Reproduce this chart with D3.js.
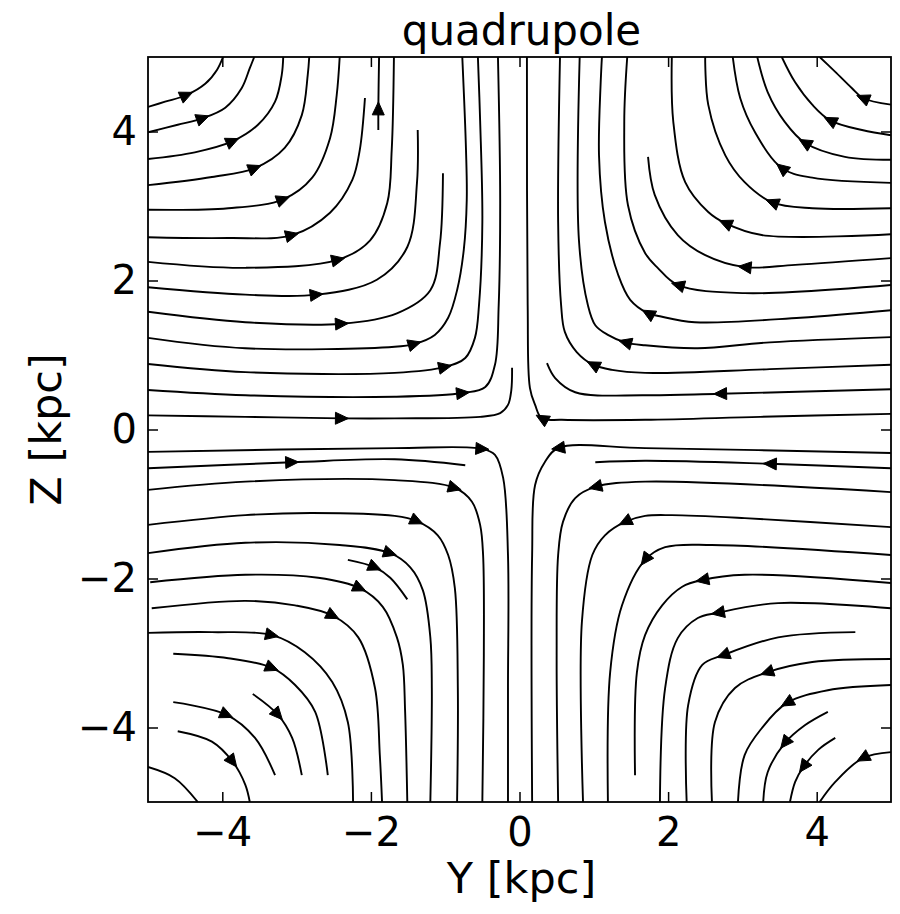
<!DOCTYPE html>
<html>
<head>
<meta charset="utf-8">
<script src="https://cdn.jsdelivr.net/npm/d3@7"></script>
<style>
  html, body { margin: 0; padding: 0; background: #fff; }
  svg { display: block; }
  text { font-family: "DejaVu Sans", sans-serif; fill: #000; }
</style>
</head>
<body>
<svg id="chart" width="900" height="914"></svg>
<script>
// ---------------- data (Y, Z in kpc) ----------------
const chartTitle = "quadrupole";
const xLabel = "Y [kpc]";
const yLabel = "Z [kpc]";
const xDomain = [-5, 5];
const yDomain = [-5, 5];
const xTicks = [-4, -2, 0, 2, 4];
const yTicks = [-4, -2, 0, 2, 4];

// each streamline: points in flow order, arrow = index of the point carrying the arrow head (-1: none)
const streamsTopLeft = [
  { pts: [[-5.0,4.33],[-4.77,4.40],[-4.48,4.49],[-4.23,4.64],[-4.07,4.83],[-3.99,5.0]], arrow: 2 },
  { pts: [[-5.0,3.99],[-4.60,4.09],[-4.26,4.18],[-3.96,4.32],[-3.74,4.58],[-3.63,4.85],[-3.57,5.0]], arrow: 2 },
  { pts: [[-5.0,3.63],[-4.37,3.72],[-3.86,3.87],[-3.52,4.09],[-3.29,4.40],[-3.20,4.76],[-3.18,5.0]], arrow: 2 },
  { pts: [[-5.0,3.28],[-4.14,3.39],[-3.56,3.51],[-3.16,3.78],[-2.93,4.22],[-2.85,4.76],[-2.83,5.0]], arrow: 2 },
  { pts: [[-5.0,2.95],[-3.92,2.97],[-3.18,3.09],[-2.79,3.38],[-2.55,3.91],[-2.46,4.49],[-2.42,5.0]], arrow: 2 },
  { pts: [[-5.0,2.58],[-3.92,2.57],[-3.06,2.61],[-2.55,2.91],[-2.25,3.35],[-2.15,3.75],[-2.08,4.45]], arrow: 2 },
  { pts: [[-1.90,4.02],[-1.90,4.31],[-1.89,5.0]], arrow: 1 },
  { pts: [[-5.0,2.25],[-3.69,2.17],[-2.44,2.28],[-2.01,2.54],[-1.78,3.04],[-1.72,3.75],[-1.69,5.0]], arrow: 2 },
  { pts: [[-5.0,1.91],[-3.69,1.81],[-2.73,1.81],[-1.92,2.01],[-1.51,2.45],[-1.38,3.31],[-1.37,4.02]], arrow: 2 },
  { pts: [[-5.0,1.58],[-3.69,1.44],[-2.39,1.42],[-1.65,1.56],[-1.20,1.87],[-1.07,2.50],[-1.03,3.44]], arrow: 2 },
  { pts: [[-5.0,1.23],[-3.69,1.09],[-1.68,1.11],[-1.41,1.15],[-1.14,1.27],[-0.96,1.50],[-0.84,1.87],[-0.75,2.41],[-0.71,3.08],[-0.72,3.75],[-0.77,5.0]], arrow: 3 },
  { pts: [[-5.0,0.88],[-3.69,0.77],[-1.68,0.76],[-1.00,0.84],[-0.73,0.96],[-0.60,1.23],[-0.545,1.67],[-0.50,2.785],[-0.53,4.15],[-0.56,5.0]], arrow: 3 },
  { pts: [[-5.0,0.53],[-3.69,0.46],[-1.68,0.44],[-0.76,0.49],[-0.46,0.57],[-0.33,0.87],[-0.28,1.67],[-0.26,3.08],[-0.29,5.0]], arrow: 3 },
  { pts: [[-5.0,0.19],[-3.69,0.17],[-2.39,0.15],[-1.68,0.15],[-0.53,0.17],[-0.26,0.22],[-0.155,0.33],[-0.11,0.53],[-0.10,0.83]], arrow: 2 }
];

const streamsTopRight = [
  { pts: [[5.0,0.21],[3.24,0.17],[1.69,0.13],[0.57,0.13],[0.30,0.15],[0.21,0.33],[0.14,0.56],[0.11,1.67],[0.10,5.0]], arrow: 4 },
  { pts: [[5.0,0.54],[2.70,0.48],[1.69,0.46],[0.75,0.50],[0.48,0.69],[0.37,0.89]], arrow: 1 },
  { pts: [[5.0,0.87],[3.37,0.81],[1.69,0.76],[1.245,0.80],[0.99,0.87],[0.77,1.04],[0.61,1.31],[0.56,1.67],[0.52,2.785],[0.545,5.0]], arrow: 4 },
  { pts: [[5.0,1.24],[3.37,1.17],[2.40,1.09],[1.69,1.13],[1.42,1.17],[1.19,1.27],[1.02,1.40],[0.92,1.67],[0.80,2.54],[0.81,5.0]], arrow: 4 },
  { pts: [[5.0,1.60],[3.78,1.50],[2.36,1.44],[1.89,1.52],[1.73,1.56],[1.49,1.74],[1.33,2.07],[1.15,2.785],[1.07,3.68],[1.11,5.0]], arrow: 4 },
  { pts: [[5.0,1.94],[3.03,1.83],[2.13,1.94],[1.86,2.17],[1.69,2.37],[1.46,3.01],[1.41,4.13],[1.45,5.0]], arrow: 2 },
  { pts: [[5.0,2.30],[3.71,2.21],[3.03,2.18],[2.50,2.34],[2.13,2.61],[1.82,3.15],[1.73,3.66]], arrow: 2 },
  { pts: [[5.0,2.62],[3.26,2.61],[2.77,2.77],[2.54,2.92],[2.23,3.32],[2.07,4.13],[2.05,5.0]], arrow: 2 },
  { pts: [[5.0,2.97],[3.94,2.97],[3.40,3.05],[3.03,3.32],[2.77,3.68],[2.54,4.36],[2.50,5.0]], arrow: 2 },
  { pts: [[5.0,3.31],[3.94,3.38],[3.53,3.51],[3.17,3.99],[2.97,4.45],[2.87,5.0]], arrow: 2 },
  { pts: [[5.0,3.62],[4.38,3.66],[3.84,3.85],[3.57,4.13],[3.34,4.53],[3.20,5.0]], arrow: 2 },
  { pts: [[5.0,3.95],[4.61,4.02],[4.18,4.15],[3.94,4.36],[3.71,4.66],[3.53,5.0]], arrow: 2 },
  { pts: [[5.0,4.36],[4.62,4.45],[4.475,4.58],[4.25,4.80],[4.04,5.0]], arrow: 1 }
];

const streamsBottomLeft = [
  { pts: [[-5.0,-0.30],[-1.68,-0.25],[-0.50,-0.26],[-0.33,-0.34],[-0.22,-0.65],[-0.155,-1.685],[-0.155,-3.47],[-0.155,-5.0]], arrow: 2 },
  { pts: [[-5.0,-0.52],[-3.06,-0.44],[-1.68,-0.40],[-0.73,-0.48]], arrow: 1 },
  { pts: [[-5.0,-0.81],[-3.69,-0.70],[-1.68,-0.68],[-0.87,-0.785],[-0.64,-0.97],[-0.53,-1.28],[-0.49,-1.685],[-0.48,-3.03],[-0.50,-5.0]], arrow: 3 },
  { pts: [[-5.0,-1.28],[-3.69,-1.15],[-2.79,-1.12],[-1.68,-1.16],[-1.38,-1.23],[-1.10,-1.42],[-0.96,-1.685],[-0.87,-2.13],[-0.83,-3.47],[-0.84,-5.0]], arrow: 4 },
  { pts: [[-5.0,-1.66],[-3.69,-1.52],[-2.42,-1.55],[-1.74,-1.66],[-1.47,-1.85],[-1.30,-2.16],[-1.20,-2.79],[-1.18,-3.47],[-1.20,-5.0]], arrow: 3 },
  { pts: [[-2.31,-1.75],[-1.945,-1.85],[-1.74,-1.99],[-1.51,-2.28]], arrow: 1 },
  { pts: [[-4.97,-2.05],[-3.69,-1.95],[-2.71,-1.99],[-2.15,-2.13],[-1.84,-2.38],[-1.65,-2.79],[-1.57,-3.16],[-1.54,-3.77],[-1.51,-5.0]], arrow: 3 },
  { pts: [[-4.95,-2.40],[-3.69,-2.30],[-3.02,-2.36],[-2.51,-2.50],[-2.17,-2.79],[-1.945,-3.47],[-1.88,-4.37],[-1.85,-5.0]], arrow: 3 },
  { pts: [[-5.0,-2.73],[-4.14,-2.72],[-3.33,-2.76],[-2.89,-2.99],[-2.52,-3.39],[-2.31,-3.93],[-2.24,-5.0]], arrow: 2 },
  { pts: [[-4.66,-3.01],[-3.92,-3.07],[-3.33,-3.20],[-3.02,-3.43],[-2.75,-3.79],[-2.58,-4.64]], arrow: 2 },
  { pts: [[-3.59,-3.55],[-3.25,-3.83],[-3.06,-4.14],[-2.93,-4.64]], arrow: 1 },
  { pts: [[-4.66,-3.66],[-3.94,-3.83],[-3.56,-4.14],[-3.29,-4.64]], arrow: 1 },
  { pts: [[-4.60,-4.05],[-4.14,-4.19],[-3.86,-4.46],[-3.69,-4.77],[-3.63,-5.0]], arrow: 2 },
  { pts: [[-5.0,-4.53],[-4.64,-4.68],[-4.33,-5.0]], arrow: -1 }
];

const streamsBottomRight = [
  { pts: [[5.0,-0.315],[1.69,-0.25],[0.52,-0.25],[0.34,-0.44],[0.21,-0.745],[0.17,-1.685],[0.17,-5.0]], arrow: 2 },
  { pts: [[5.0,-0.52],[3.37,-0.46],[1.69,-0.42],[1.02,-0.44]], arrow: 1 },
  { pts: [[5.0,-0.84],[1.69,-0.70],[1.02,-0.77],[0.75,-0.92],[0.585,-1.24],[0.52,-1.685],[0.50,-3.03],[0.52,-5.0]], arrow: 2 },
  { pts: [[5.0,-1.31],[3.03,-1.19],[2.05,-1.15],[1.69,-1.16],[1.42,-1.24],[1.15,-1.42],[0.98,-1.685],[0.84,-2.58],[0.855,-5.0]], arrow: 4 },
  { pts: [[5.0,-1.685],[2.59,-1.55],[1.96,-1.58],[1.69,-1.75],[1.38,-2.36],[1.22,-3.26],[1.19,-5.0]], arrow: 3 },
  { pts: [[5.0,-2.06],[3.03,-1.95],[2.46,-2.02],[2.19,-2.11],[1.92,-2.36],[1.69,-2.76],[1.58,-3.26],[1.555,-4.64]], arrow: 2 },
  { pts: [[5.0,-2.40],[3.48,-2.33],[2.67,-2.46],[2.40,-2.53],[2.13,-2.80],[1.96,-3.47],[1.89,-5.0]], arrow: 2 },
  { pts: [[4.52,-2.72],[3.48,-2.79],[2.74,-3.03],[2.46,-3.16],[2.27,-3.70],[2.25,-5.0]], arrow: 2 },
  { pts: [[5.0,-3.08],[3.94,-3.12],[3.33,-3.26],[2.90,-3.47],[2.63,-3.93],[2.59,-5.0]], arrow: 2 },
  { pts: [[5.0,-3.43],[4.15,-3.50],[3.60,-3.67],[3.26,-4.01],[3.03,-4.37],[2.94,-5.0]], arrow: 2 },
  { pts: [[4.15,-3.79],[3.84,-3.97],[3.57,-4.21],[3.34,-4.60],[3.28,-5.0]], arrow: 2 },
  { pts: [[4.25,-4.14],[4.02,-4.30],[3.82,-4.53],[3.71,-4.73],[3.64,-5.0]], arrow: 2 },
  { pts: [[5.0,-4.33],[4.62,-4.41],[4.25,-4.73],[4.04,-5.0]], arrow: 1 }
];

// ---------------- layout ----------------
const svg = d3.select("#chart");
const plot = { left: 148, right: 891, top: 57, bottom: 802 };
const x = d3.scaleLinear().domain(xDomain).range([plot.left, plot.right]);
const y = d3.scaleLinear().domain(yDomain).range([plot.bottom, plot.top]);
const tickFont = 40;

svg.append("defs").append("clipPath").attr("id", "clip")
  .append("rect")
  .attr("x", plot.left).attr("y", plot.top)
  .attr("width", plot.right - plot.left).attr("height", plot.bottom - plot.top);

const g = svg.append("g").attr("clip-path", "url(#clip)");

const line = d3.line()
  .x(d => x(d[0])).y(d => y(d[1]))
  .curve(d3.curveCatmullRom.alpha(0.5));

const allStreams = [].concat(streamsTopLeft, streamsTopRight, streamsBottomLeft, streamsBottomRight);

g.selectAll("path.stream").data(allStreams).join("path")
  .attr("class", "stream")
  .attr("d", d => line(d.pts))
  .attr("fill", "none")
  .attr("stroke", "#000")
  .attr("stroke-width", 1.9)
  .attr("stroke-linejoin", "round");

// arrow heads
const headLen = 13, headHalf = 6;
function arrowPath(s) {
  const i = s.arrow;
  const P = s.pts.map(p => [x(p[0]), y(p[1])]);
  const a = P[Math.max(i - 1, 0)], b = P[Math.min(i + 1, P.length - 1)], c = P[i];
  let dx = b[0] - a[0], dy = b[1] - a[1];
  const L = Math.hypot(dx, dy) || 1;
  dx /= L; dy /= L;
  const nx = -dy, ny = dx;
  const tip = [c[0] + dx * headLen / 2, c[1] + dy * headLen / 2];
  const bc = [c[0] - dx * headLen / 2, c[1] - dy * headLen / 2];
  return `M${tip[0]},${tip[1]}L${bc[0] + nx * headHalf},${bc[1] + ny * headHalf}L${bc[0] - nx * headHalf},${bc[1] - ny * headHalf}Z`;
}
g.selectAll("path.head").data(allStreams.filter(s => s.arrow >= 0)).join("path")
  .attr("class", "head")
  .attr("d", arrowPath)
  .attr("fill", "#000")
  .attr("stroke", "#000")
  .attr("stroke-width", 1)
  .attr("stroke-linejoin", "miter");

// ---------------- axes ----------------
function styleAxis(sel) {
  sel.select(".domain").remove();
  sel.selectAll(".tick line").attr("stroke", "#000").attr("stroke-width", 1.5);
  sel.selectAll(".tick text").attr("font-size", tickFont).attr("font-family", "DejaVu Sans");
}
svg.append("g").attr("transform", `translate(0,${plot.bottom})`)
  .call(d3.axisBottom(x).tickValues(xTicks).tickSize(-10).tickPadding(15.5).tickFormat(d3.format("d")))
  .call(styleAxis);
svg.append("g").attr("transform", `translate(0,${plot.top})`)
  .call(d3.axisTop(x).tickValues(xTicks).tickSize(-10).tickFormat(""))
  .call(styleAxis);
svg.append("g").attr("transform", `translate(${plot.left},0)`)
  .call(d3.axisLeft(y).tickValues(yTicks).tickSize(-10).tickPadding(11).tickFormat(d3.format("d")))
  .call(styleAxis);
svg.append("g").attr("transform", `translate(${plot.right},0)`)
  .call(d3.axisRight(y).tickValues(yTicks).tickSize(-10).tickFormat(""))
  .call(styleAxis);

// frame
svg.append("rect")
  .attr("x", plot.left).attr("y", plot.top)
  .attr("width", plot.right - plot.left).attr("height", plot.bottom - plot.top)
  .attr("fill", "none").attr("stroke", "#000").attr("stroke-width", 1.8);

// title & labels
svg.append("text").attr("x", (plot.left + plot.right) / 2 + 2).attr("y", 45)
  .attr("text-anchor", "middle").attr("font-size", 42).text(chartTitle);
svg.append("text").attr("x", (plot.left + plot.right) / 2 + 2).attr("y", 893)
  .attr("text-anchor", "middle").attr("font-size", 43).text(xLabel);
svg.append("text").attr("transform", `translate(61,${(plot.top + plot.bottom) / 2}) rotate(-90)`)
  .attr("text-anchor", "middle").attr("font-size", 43).text(yLabel);
</script>
</body>
</html>
